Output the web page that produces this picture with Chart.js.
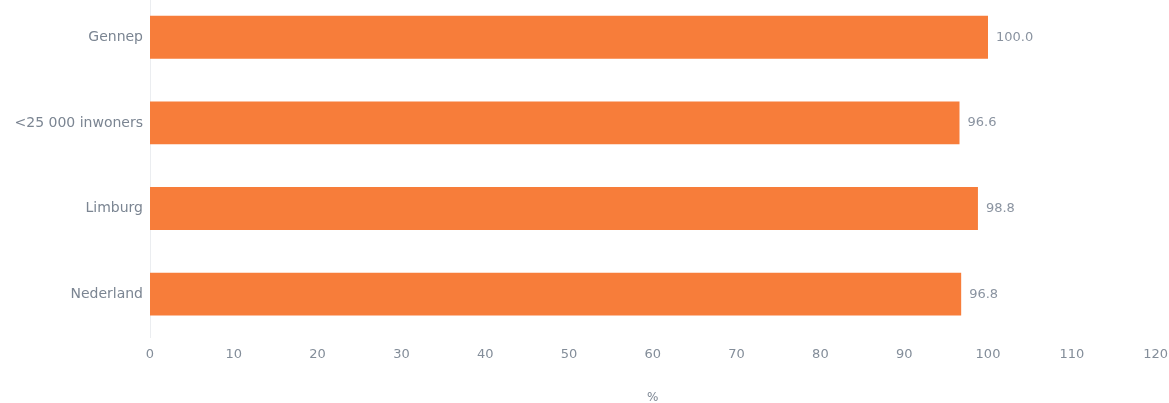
<html>
<head>
    <script src="https://cdn.jsdelivr.net/npm/chart.js@4.4.3/dist/chart.umd.min.js"></script>
    <style>
        body { margin: 0; background: #fff; overflow: hidden; }
        #wrap { position: relative; width: 1178px; height: 426px; margin-top: -21px; }
    </style>
</head>
<body>
<div id="wrap"><canvas id="mychart"></canvas></div>
<script>
    const labels = ["Gennep", "<25 000 inwoners", "Limburg", "Nederland"];
    const values = [100.0, 96.6, 98.8, 96.8];
    const xTicks = [0, 120, 10]; // min, max, step

    const textColor = '#7b8592';
    const barColor = '#f77d3a';

    // values printed at the end of each bar
    const valueLabels = {
        id: 'valueLabels',
        afterDatasetsDraw(chart) {
            let ctx = chart.ctx;
            let meta = chart.getDatasetMeta(0);
            ctx.save();
            ctx.font = '13px "DejaVu Sans"';
            ctx.fillStyle = '#8a93a0';
            ctx.textAlign = 'left';
            ctx.textBaseline = 'middle';
            meta.data.forEach((bar, i) => {
                ctx.fillText(values[i].toFixed(1), bar.x + 8, bar.y);
            });
            ctx.restore();
        }
    };

    let config = {
        type: 'bar',
        data: {
            labels: labels,
            datasets: [{
                data: values,
                backgroundColor: barColor,
                barPercentage: 0.5,
                categoryPercentage: 1.0
            }]
        },
        options: {
            indexAxis: 'y',
            responsive: true,
            maintainAspectRatio: false,
            animation: false,
            layout: { padding: { left: 0, right: 0, top: 0, bottom: 0 } },
            plugins: {
                legend: { display: false },
                tooltip: { enabled: false }
            },
            scales: {
                x: {
                    min: xTicks[0],
                    max: xTicks[1],
                    grid: { display: false, drawTicks: false },
                    border: { display: false },
                    ticks: {
                        stepSize: xTicks[2],
                        color: '#838d99',
                        padding: 10,
                        font: { family: 'DejaVu Sans', size: 13 }
                    },
                    title: {
                        display: true,
                        text: '%',
                        color: textColor,
                        padding: { top: 18, bottom: 0 },
                        font: { family: 'DejaVu Sans', size: 12 }
                    }
                },
                y: {
                    grid: { display: false, drawTicks: false },
                    border: { display: true, color: '#ebedf0', width: 1 },
                    afterFit(scale) { scale.width = 150; },
                    ticks: {
                        color: textColor,
                        padding: 7,
                        font: { family: 'DejaVu Sans', size: 14 }
                    }
                }
            }
        },
        plugins: [valueLabels]
    };

    new Chart(document.getElementById('mychart'), config);
</script>
</body>
</html>
